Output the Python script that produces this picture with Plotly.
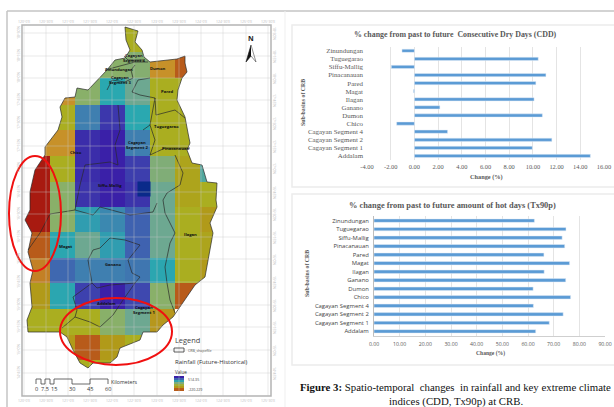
import plotly.graph_objects as go

W, H = 614, 407
basins = ["Addalam", "Cagayan Segment 1", "Cagayan Segment 2", "Cagayan Segment 4", "Chico", "Dumon", "Ganano",
          "Ilagan", "Magat", "Pared", "Pinacanauan", "Siffu-Mallig", "Tuguegarao", "Zinundungan"]
cdd = [14.85, 9.95, 11.6, 2.8, -1.5, 10.8, 2.15, 10.1, -0.08, 10.25, 11.1, -1.95, 10.45, -1.05]
tx90p = [63, 68.3, 73.7, 62.1, 76.6, 62, 74.7, 66.3, 76.2, 66.2, 74.3, 73.3, 74.8, 62.5]
cdd_ticks = [-4, -2, 0, 2, 4, 6, 8, 10, 12, 14, 16]
tx_ticks = [0, 10, 20, 30, 40, 50, 60, 70, 80, 90]

# rainfall difference raster (future - historical), rows top to bottom
col_edges = [25, 50, 75, 100, 125, 150, 175, 200, 225]
row_edges = [25, 52, 78, 105, 130, 156, 181.5, 207, 232, 258, 283, 309, 335, 360, 370]
rain = [
    [None, None, None, None, -30, None, None, None],
    [None, None, None, 90, 100, -100, -160, None],
    [None, -100, 90, 220, 150, -30, -30, None],
    [None, -30, 295, 405, 220, -30, -30, None],
    [-100, -100, 420, 440, 295, -30, -30, None],
    [-220, -30, 420, 440, 395, 110, -45, 180],
    [-220, 90, 410, 440, 410, 150, -45, -30],
    [-220, 90, 240, 280, 340, 150, -30, -60],
    [-160, 225, 150, 240, 340, 150, -30, -45],
    [-120, 330, 295, 295, 310, 225, -30, -60],
    [-60, 225, 390, 440, 380, 90, -160, None],
    [-30, -30, -30, 90, 150, -70, None, None],
    [None, -60, -160, -60, -30, None, None, None],
    [None, None, -30, -30, None, None, None, None],
]
rain_peak_x = [137.5, 150]
rain_peak_y = [181.5, 196]
rain_peak = [[514]]
rain_scale = [[0, "#a81a10"], [0.08, "#b85a1a"], [0.16, "#c8902a"], [0.22, "#b09a18"], [0.26, "#aaaf20"],
              [0.42, "#8ab068"], [0.5, "#70a890"], [0.6, "#2aa8b0"], [0.7, "#3f80b0"], [0.8, "#3f50b0"],
              [0.9, "#3a1fa8"], [1, "#0a2a8a"]]
legend_edges = [376, 378, 380, 382, 384, 386, 388, 391]
legend_vals = [[440], [340], [230], [120], [10], [-60], [-160]]

outline = [(125,27),(138,31),(135,42),(142,50),(144,57),(150,62),(177,59),(185,56),(185,63),(187,72),(182,78),(178,90),
           (177,100),(185,117),(188,133),(190,143),(187,150),(192,163),(202,165),(207,182),(217,183),(216,200),(217,207),
           (210,223),(213,233),(210,250),(205,277),(195,285),(183,303),(173,317),(163,325),(157,332),(143,332),(140,340),
           (120,348),(117,357),(110,363),(93,363),(88,368),(80,363),(73,350),(67,337),(60,332),(28,332),(27,320),(32,307),
           (30,283),(33,270),(28,252),(32,233),(25,220),(30,210),(30,192),(35,170),(45,155),(45,147),(58,130),(62,117),
           (60,107),(65,98),(75,97),(77,88),(88,90),(100,78),(107,70),(115,60),(125,58),(130,50),(126,40),(125,27)]
sub_lines = [
    [(124,56),(128,60),(143,60)],
    [(105,70),(120,66),(135,62),(148,62)],
    [(107,90),(112,80),(125,82),(133,78),(131,70),(135,65)],
    [(150,78),(138,80),(132,92),(140,95),(155,98),(152,115),(150,125),(143,130)],
    [(155,98),(156,115),(175,110),(185,118)],
    [(150,125),(155,140),(150,155),(165,148),(190,148)],
    [(118,105),(120,130),(115,145),(118,165),(110,162),(85,165),(80,185),(75,210)],
    [(28,250),(40,233),(50,214),(63,212),(75,210),(93,215),(100,207),(130,215),(153,212),(157,203)],
    [(88,260),(93,250),(100,248),(110,238),(125,240),(140,245),(128,260),(132,273),(140,277),(135,283),(110,285),(97,288),(92,283),(88,260)],
    [(92,283),(73,297),(77,310),(75,317),(62,328)],
    [(75,317),(90,322),(100,327),(113,315),(123,300),(135,283)],
    [(175,313),(170,300),(167,283),(165,267),(170,243),(175,233),(165,213),(163,200),(167,193),(180,185),(183,173),(175,155)],
]
grid_x = [24, 46, 68, 90, 112, 134, 157, 179, 201, 223, 246, 268]
grid_y = [33, 56, 78, 100, 123, 146, 168, 192, 214, 237, 259, 282, 305, 327, 350, 373]
lon_labels = ["120°0'E", "120°30'E", "121°0'E", "121°30'E", "122°0'E", "122°30'E", "123°0'E", "123°30'E", "124°0'E", "124°30'E", "125°0'E", "125°30'E"]
lat_labels = ["18°30'N", "18°15'N", "18°0'N", "17°45'N", "17°30'N", "17°15'N", "17°0'N", "16°45'N", "16°30'N", "16°15'N", "16°0'N", "15°45'N", "15°30'N", "15°15'N", "15°0'N", "14°45'N"]
map_labels = [("Cagayan<br>Segment 4", 134, 58), ("Zinundungan", 119, 69), ("Cagayan<br>Segment 3", 120, 80), ("Dumon", 158, 68),
              ("Pared", 167, 91), ("Tuguegarao", 166, 126), ("Pinacanauan", 175, 148), ("Cagayan<br>Segment 2", 137, 145),
              ("Chico", 76, 152), ("Siffu-Mallig", 110, 185), ("Magat", 65, 246), ("Ganano", 113, 264), ("Addalam", 106, 303),
              ("Cagayan<br>Segment 1", 144, 310), ("Ilagan", 190, 234)]
scale_km = ["0", "7.5", "15", "30", "45", "60"]
scale_pos = [36, 45, 54, 72, 90, 108]

caption_1 = "<b>Figure 3:</b> Spatio-temporal  changes  in rainfall and key extreme climate"
caption_2 = "indices (CDD, Tx90p) at CRB."

SERIF = "Liberation Serif"
SANS = "Open Sans"
GREY = "#595959"


def dx(a, b):
    return [a / W, b / W]


def dy(top, bottom):
    return [1 - bottom / H, 1 - top / H]


def poly(points):
    return [p[0] for p in points], [p[1] for p in points]


def lines(groups):
    xs, ys = [], []
    for g in groups:
        xs += [p[0] for p in g] + [None]
        ys += [p[1] for p in g] + [None]
    return xs, ys


fig = go.Figure()
fig.add_trace(go.Heatmap(x=col_edges, y=row_edges, z=rain, zmin=-220.229, zmax=514.35, colorscale=rain_scale,
                         showscale=False, hoverongaps=False, xaxis="x", yaxis="y"))
fig.add_trace(go.Heatmap(x=rain_peak_x, y=rain_peak_y, z=rain_peak, zmin=-220.229, zmax=514.35, colorscale=rain_scale,
                         showscale=False, xaxis="x", yaxis="y"))
# mask outside the basin outline (outer ring runs opposite to the outline, leaving a hole)
ox, oy = poly(outline)
L, R, T, B = col_edges[0] - 2, col_edges[-1] + 2, row_edges[0] - 1, row_edges[-1] + 1
fig.add_trace(go.Scatter(x=[L, L, R, R, L, None] + ox, y=[T, B, B, T, T, None] + oy,
                         mode="lines", fill="toself", fillcolor="white", line=dict(width=0), xaxis="x", yaxis="y"))
sx, sy = lines(sub_lines + [outline])
fig.add_trace(go.Scatter(x=sx, y=sy, mode="lines", line=dict(color="#2a2a2a", width=0.7), xaxis="x", yaxis="y"))
gxs, gys = lines([[(g, 25), (g, 396)] for g in grid_x] + [[(22, g), (271, g)] for g in grid_y])
fig.add_trace(go.Scatter(x=gxs, y=gys, mode="lines", line=dict(color="rgba(200,200,200,0.4)", width=1), xaxis="x", yaxis="y"))
# legend ramp
fig.add_trace(go.Heatmap(x=[174, 184], y=legend_edges, z=legend_vals, zmin=-220.229, zmax=514.35,
                         colorscale=rain_scale, showscale=False, xaxis="x", yaxis="y"))
# north arrow
fig.add_trace(go.Scatter(x=[251, 246, 251], y=[45, 62, 56], mode="lines", fill="toself", fillcolor="#111", line=dict(color="#111", width=0.6), xaxis="x", yaxis="y"))
fig.add_trace(go.Scatter(x=[251, 256, 251], y=[45, 62, 56], mode="lines", line=dict(color="#444", width=0.6), xaxis="x", yaxis="y"))
# scale bar
fig.add_trace(go.Scatter(x=[36, 36, 41, 41, 45, 45, 50, 50, 54, 54, 72, 72, 90, 90, 108, 108],
                         y=[384, 379, 379, 384, 384, 379, 379, 384, 384, 379, 379, 384, 384, 379, 379, 384],
                         mode="lines", line=dict(color="#444", width=0.8), xaxis="x", yaxis="y"))
# legend key
fig.add_trace(go.Scatter(x=[174, 184, 184, 174, 174], y=[348, 348, 352, 352, 348], mode="lines", line=dict(color="#333", width=0.8), xaxis="x", yaxis="y"))

fig.add_trace(go.Bar(x=cdd, y=basins, orientation="h", marker_color="#5b9bd5", width=0.4, xaxis="x2", yaxis="y2"))
fig.add_trace(go.Bar(x=tx90p, y=basins, orientation="h", marker_color="#5b9bd5", width=0.4, xaxis="x3", yaxis="y3"))

shapes = [
    dict(type="rect", xref="paper", yref="paper", x0=292 / W, x1=1.01, y0=1 - 187 / H, y1=1 - 25 / H, line=dict(color="#ececec", width=1.5), layer="below"),
    dict(type="rect", xref="paper", yref="paper", x0=292 / W, x1=1.01, y0=1 - 365 / H, y1=1 - 194 / H, line=dict(color="#ececec", width=1.5), layer="below"),
    dict(type="line", xref="paper", yref="paper", x0=7 / W, x1=1, y0=1 - 11 / H, y1=1 - 11 / H, line=dict(color="#c4c4c4", width=1.5)),
    dict(type="line", xref="paper", yref="paper", x0=7 / W, x1=7 / W, y0=0, y1=1 - 11 / H, line=dict(color="#c4c4c4", width=1.5)),
    dict(type="line", xref="paper", yref="paper", x0=285 / W, x1=285 / W, y0=0, y1=1 - 11 / H, line=dict(color="#efefef", width=1)),
    dict(type="rect", xref="x", yref="y", x0=22, x1=271, y0=25, y1=396, line=dict(color="#b4b4b4", width=1.5)),
    dict(type="circle", xref="x", yref="y", x0=9, x1=61, y0=156, y1=271, line=dict(color="#f01010", width=2)),
    dict(type="circle", xref="x", yref="y", x0=60, x1=172, y0=298, y1=365, line=dict(color="#f01010", width=2)),
]

ann = []


def t(text, x, y, size, color="#222", family=SANS, anchor="center", angle=0):
    ann.append(dict(text=text, xref="x", yref="y", x=x, y=y, showarrow=False, font=dict(size=size, color=color, family=family),
                    xanchor=anchor, yanchor="middle", textangle=angle, align="center", borderpad=0))


for label, x, y in map_labels:
    t("<b>%s</b>" % label, x, y, 4.2, "#111")
for g, lab in zip(grid_x, lon_labels):
    t(lab, g, 21, 3.5, "#bbb")
    t(lab, g, 400, 3.5, "#bbb")
for g, lab in zip(grid_y, lat_labels):
    t(lab, 18, g, 3.5, "#bbb", angle=-90)
    t(lab, 275, g, 3.5, "#bbb", angle=90)
t("<b>N</b>", 251, 38, 7, "#222")
for p_, lab in zip(scale_pos, scale_km):
    t(lab, p_, 388.5, 5.6, "#333")
t("Kilometers", 110, 382, 5.2, "#333", anchor="left")
t("Legend", 174, 340, 7.4, "#444", anchor="left")
t("CRB_shapefile", 187, 350.5, 3.6, "#555", anchor="left")
t("Rainfall (Future-Historical)", 174, 361.5, 6, "#333", anchor="left")
t("Value", 174, 371.5, 4.6, "#333", anchor="left")
t("514.35", 187, 379, 3.6, "#444", anchor="left")
t("-220.229", 187, 389, 3.6, "#444", anchor="left")


def p(text, x, y, size, color=GREY, family=SERIF, angle=0, anchor="center"):
    ann.append(dict(text=text, xref="paper", yref="paper", x=x / W, y=1 - y / H, showarrow=False,
                    font=dict(size=size, color=color, family=family), xanchor=anchor, yanchor="middle", textangle=angle, borderpad=0))


p("<b>% change from past to future  Consecutive Dry Days (CDD)</b>", 455.5, 35, 7.9)
p("<b>Change (%)</b>", 486.5, 177, 6.3)
p("<b>Sub-basins of CRB</b>", 303, 103, 5.8, angle=-90)
p("<b>% change from past to future amount of hot days (Tx90p)</b>", 452, 205, 8.4)
p("<b>Change (%)</b>", 490, 353.5, 5.6)
p("<b>Sub-basins of CRB</b>", 307, 274, 5.8, angle=-90)
p(caption_1, 455.5, 387, 10.8, "#111")
p(caption_2, 455.5, 401, 10.8, "#111")

layout = dict(
    width=W, height=H, margin=dict(l=0, r=0, t=0, b=0, autoexpand=False), autosize=False, showlegend=False,
    paper_bgcolor="white", plot_bgcolor="rgba(0,0,0,0)", shapes=shapes, annotations=ann, bargap=0.6,
    xaxis=dict(domain=dx(0, 290), range=[0, 290], visible=False, fixedrange=True),
    yaxis=dict(domain=dy(0, 407), range=[407, 0], visible=False, fixedrange=True),
    xaxis2=dict(domain=dx(367, 604), range=[-4, 16], tickvals=cdd_ticks, ticktext=["%.2f" % v for v in cdd_ticks],
                anchor="y2", showgrid=True, gridcolor="#e4e4e4", gridwidth=1, zeroline=False, showline=False, ticks="",
                tickfont=dict(size=6.4, family=SERIF, color=GREY), ticklabelstandoff=2),
    yaxis2=dict(domain=dy(46.7, 160), anchor="x2", type="category", categoryorder="array", categoryarray=basins,
                tickmode="array", tickvals=basins, ticktext=basins,
                tickfont=dict(size=6.9, family=SERIF, color=GREY), showline=False, showgrid=False, zeroline=False, ticks="",
                ticklabelstandoff=3),
    xaxis3=dict(domain=dx(374, 605), range=[0, 90], tickvals=tx_ticks, ticktext=["%.2f" % v for v in tx_ticks],
                anchor="y3", showgrid=True, gridcolor="#e4e4e4", gridwidth=1, zeroline=False, showline=True, linecolor="#cfcfcf", ticks="",
                tickfont=dict(size=5.2, family=SANS, color=GREY), ticklabelstandoff=3),
    yaxis3=dict(domain=dy(216.4, 335.6), anchor="x3", type="category", categoryorder="array", categoryarray=basins,
                tickmode="array", tickvals=basins, ticktext=basins,
                tickfont=dict(size=5.9, family=SANS, color="#444"), showline=True, linecolor="#bdbdbd", showgrid=False, zeroline=False, ticks="",
                ticklabelstandoff=3),
)
fig.update_layout(**layout)
fig.write_html("out.html", config=dict(displayModeBar=False, responsive=False),
               post_script="document.body.style.margin='0';document.documentElement.style.overflow='hidden';")
